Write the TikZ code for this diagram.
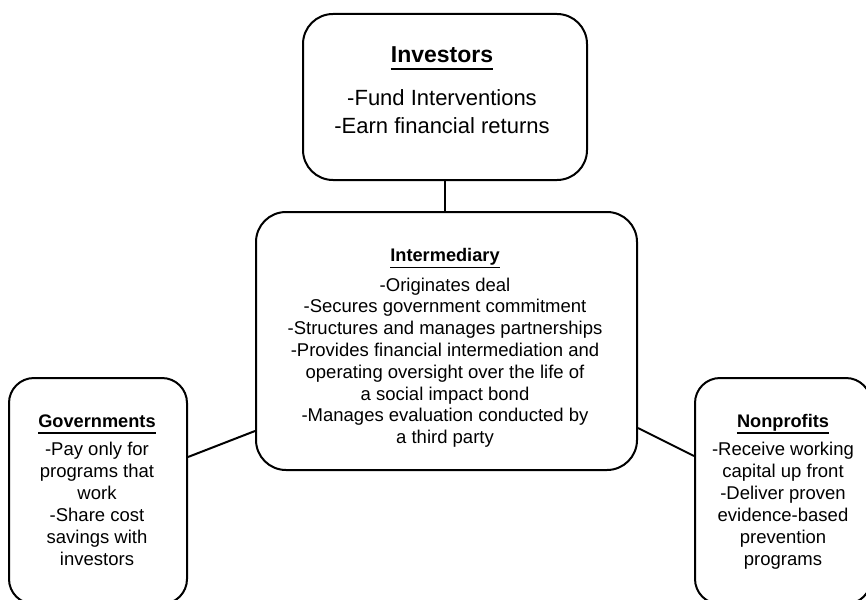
\documentclass[tikz,border=0pt]{standalone}
\usepackage{fontspec}
\setmainfont{Liberation Sans}
\begin{document}
\begin{tikzpicture}[x=1pt,y=-1pt,
  box/.style={draw=black, line width=2pt, rounded corners=#1, inner sep=0pt},
  link/.style={draw=black, line width=2pt},
  ul/.style={draw=black, line width=1.8pt},
  bigtitle/.style={font=\fontsize{23}{27}\selectfont\bfseries, inner sep=0pt, anchor=base},
  bigtext/.style={font=\fontsize{22}{27}\selectfont, inner sep=0pt, anchor=base},
  smalltitle/.style={font=\fontsize{18.2}{22}\selectfont\bfseries, inner sep=0pt, anchor=base},
  smalltext/.style={font=\fontsize{18.5}{22}\selectfont, inner sep=0pt, anchor=base}]
\useasboundingbox (0,0) rectangle (866,599);

% boxes
\node[box=30pt, minimum width=284pt, minimum height=166pt] (inv) at (445,97) {};
\node[box=30pt, minimum width=381pt, minimum height=258pt] (int) at (446.5,341) {};
\node[box=25pt, minimum width=178pt, minimum height=226pt] (gov) at (98,491) {};
\node[box=25pt, minimum width=176pt, minimum height=226pt] (npo) at (783,491) {};

% connectors
\draw[link] (inv.south) -- (inv.south |- int.north);
\coordinate (govR) at (gov.east |- 0,457);
\coordinate (intL) at (int.west |- 0,431);
\draw[link] (govR) -- (intL);
\coordinate (intR) at (int.east |- 0,428);
\coordinate (npoL) at (npo.west |- 0,456);
\draw[link] (intR) -- (npoL);

% Investors
\node[bigtitle] (invT) at (442,63) {Investors};
\draw[ul] ([yshift=-6pt]invT.base west) -- ([yshift=-6pt]invT.base east);
\node[bigtext] (invA) at (442,106) {-Fund Interventions};
\node[bigtext] (invB) at (442,133) {-Earn financial returns};

% Intermediary
\node[smalltitle] (intT) at (445,261) {Intermediary};
\draw[ul] ([yshift=-6.5pt]intT.base west) -- ([yshift=-6.5pt]intT.base east);
\foreach \t [count=\i] in {-Originates deal, -Secures government commitment,
    -Structures and manages partnerships, -Provides financial intermediation and,
    operating oversight over the life of, a social impact bond,
    -Manages evaluation conducted by, a third party}
  \node[smalltext] (int-\i) at (445,{291+(\i-1)*21.8}) {\t};

% Governments
\node[smalltitle] (govT) at (97,427) {Governments};
\draw[ul] ([yshift=-6pt]govT.base west) -- ([yshift=-6pt]govT.base east);
\foreach \t [count=\i] in {-Pay only for, programs that, work, -Share cost,
    savings with, investors}
  \node[smalltext] (gov-\i) at (97,{455+(\i-1)*22}) {\t};

% Nonprofits
\node[smalltitle] (npoT) at (783,427) {Nonprofits};
\draw[ul] ([yshift=-6pt]npoT.base west) -- ([yshift=-6pt]npoT.base east);
\foreach \t [count=\i] in {-Receive working, capital up front, -Deliver proven,
    evidence-based, prevention, programs}
  \node[smalltext] (npo-\i) at (783,{455+(\i-1)*22}) {\t};
\end{tikzpicture}
\end{document}
